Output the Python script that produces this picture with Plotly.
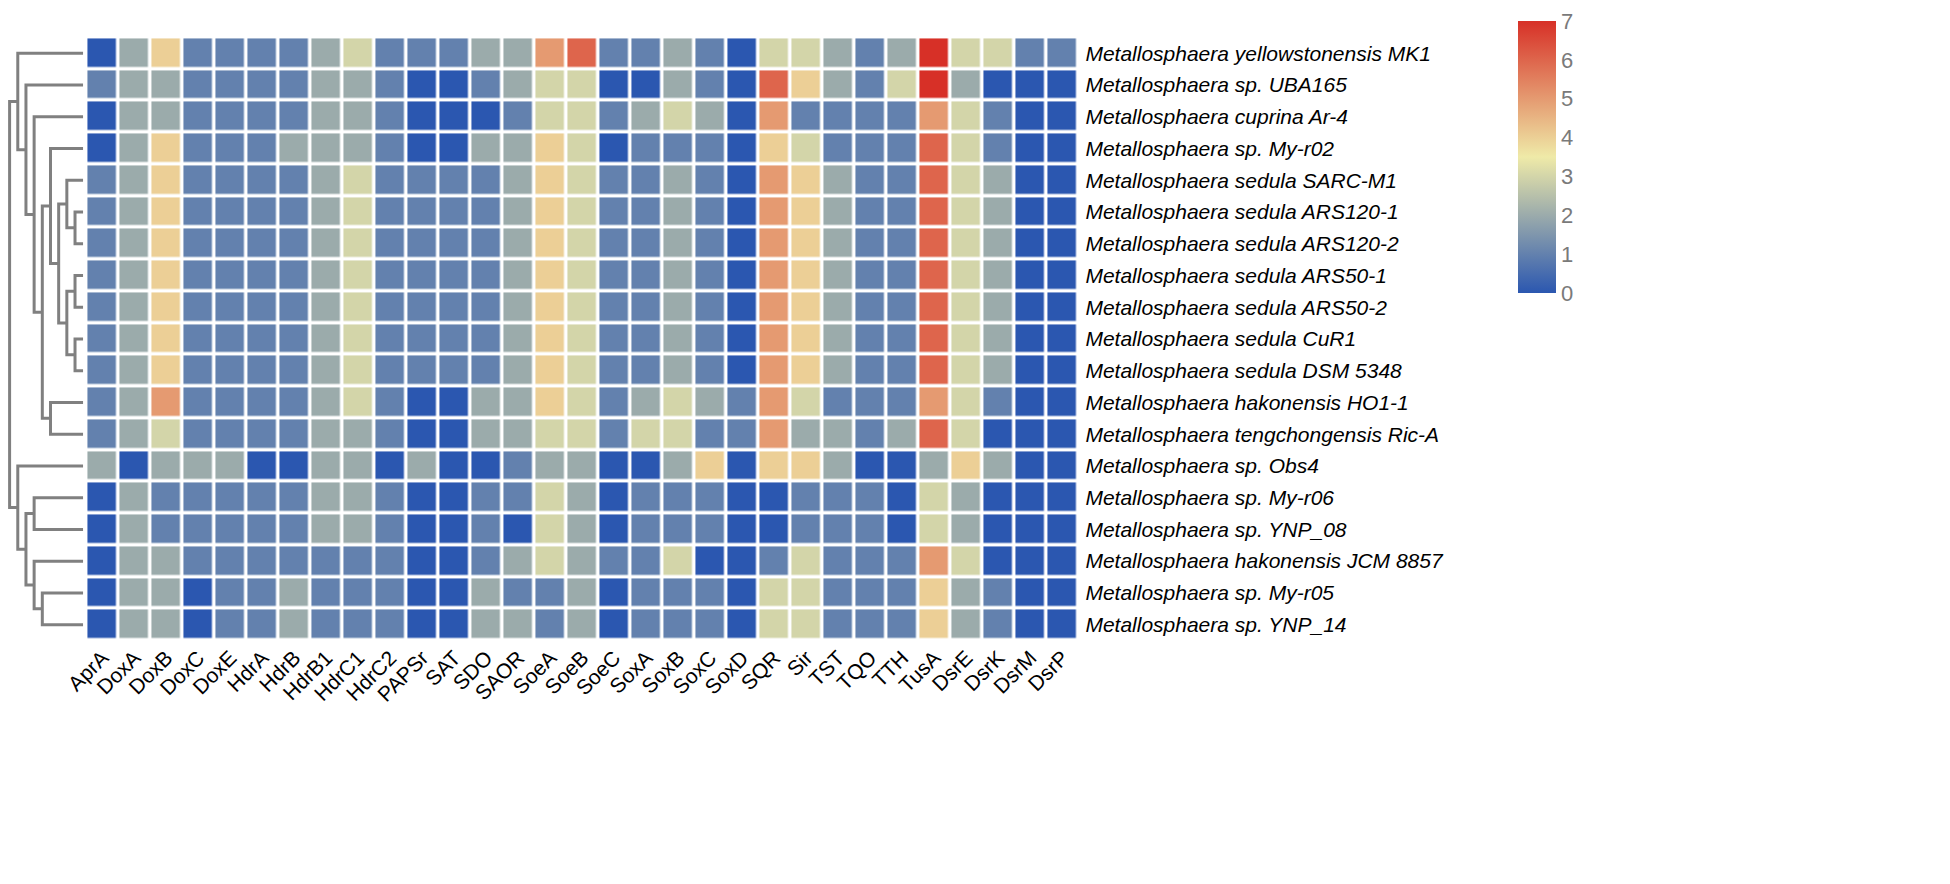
import plotly.graph_objects as go

genomes = [
    "Metallosphaera yellowstonensis MK1",
    "Metallosphaera sp. UBA165",
    "Metallosphaera cuprina Ar-4",
    "Metallosphaera sp. My-r02",
    "Metallosphaera sedula SARC-M1",
    "Metallosphaera sedula ARS120-1",
    "Metallosphaera sedula ARS120-2",
    "Metallosphaera sedula ARS50-1",
    "Metallosphaera sedula ARS50-2",
    "Metallosphaera sedula CuR1",
    "Metallosphaera sedula DSM 5348",
    "Metallosphaera hakonensis HO1-1",
    "Metallosphaera tengchongensis Ric-A",
    "Metallosphaera sp. Obs4",
    "Metallosphaera sp. My-r06",
    "Metallosphaera sp. YNP_08",
    "Metallosphaera hakonensis JCM 8857",
    "Metallosphaera sp. My-r05",
    "Metallosphaera sp. YNP_14",
]

genes = ["AprA", "DoxA", "DoxB", "DoxC", "DoxE", "HdrA", "HdrB", "HdrB1", "HdrC1",
         "HdrC2", "PAPSr", "SAT", "SDO", "SAOR", "SoeA", "SoeB", "SoeC", "SoxA",
         "SoxB", "SoxC", "SoxD", "SQR", "Sir", "TST", "TQO", "TTH", "TusA", "DsrE",
         "DsrK", "DsrM", "DsrP"]

# gene copy numbers, one row per genome (same order as genomes)
counts = [
    [0, 2, 4, 1, 1, 1, 1, 2, 3, 1, 1, 1, 2, 2, 5, 6, 1, 1, 2, 1, 0, 3, 3, 2, 1, 2, 7, 3, 3, 1, 1],
    [1, 2, 2, 1, 1, 1, 1, 2, 2, 1, 0, 0, 1, 2, 3, 3, 0, 0, 2, 1, 0, 6, 4, 2, 1, 3, 7, 2, 0, 0, 0],
    [0, 2, 2, 1, 1, 1, 1, 2, 2, 1, 0, 0, 0, 1, 3, 3, 1, 2, 3, 2, 0, 5, 1, 1, 1, 1, 5, 3, 1, 0, 0],
    [0, 2, 4, 1, 1, 1, 2, 2, 2, 1, 0, 0, 2, 2, 4, 3, 0, 1, 1, 1, 0, 4, 3, 1, 1, 1, 6, 3, 1, 0, 0],
    [1, 2, 4, 1, 1, 1, 1, 2, 3, 1, 1, 1, 1, 2, 4, 3, 1, 1, 2, 1, 0, 5, 4, 2, 1, 1, 6, 3, 2, 0, 0],
    [1, 2, 4, 1, 1, 1, 1, 2, 3, 1, 1, 1, 1, 2, 4, 3, 1, 1, 2, 1, 0, 5, 4, 2, 1, 1, 6, 3, 2, 0, 0],
    [1, 2, 4, 1, 1, 1, 1, 2, 3, 1, 1, 1, 1, 2, 4, 3, 1, 1, 2, 1, 0, 5, 4, 2, 1, 1, 6, 3, 2, 0, 0],
    [1, 2, 4, 1, 1, 1, 1, 2, 3, 1, 1, 1, 1, 2, 4, 3, 1, 1, 2, 1, 0, 5, 4, 2, 1, 1, 6, 3, 2, 0, 0],
    [1, 2, 4, 1, 1, 1, 1, 2, 3, 1, 1, 1, 1, 2, 4, 3, 1, 1, 2, 1, 0, 5, 4, 2, 1, 1, 6, 3, 2, 0, 0],
    [1, 2, 4, 1, 1, 1, 1, 2, 3, 1, 1, 1, 1, 2, 4, 3, 1, 1, 2, 1, 0, 5, 4, 2, 1, 1, 6, 3, 2, 0, 0],
    [1, 2, 4, 1, 1, 1, 1, 2, 3, 1, 1, 1, 1, 2, 4, 3, 1, 1, 2, 1, 0, 5, 4, 2, 1, 1, 6, 3, 2, 0, 0],
    [1, 2, 5, 1, 1, 1, 1, 2, 3, 1, 0, 0, 2, 2, 4, 3, 1, 2, 3, 2, 1, 5, 3, 1, 1, 1, 5, 3, 1, 0, 0],
    [1, 2, 3, 1, 1, 1, 1, 2, 2, 1, 0, 0, 2, 2, 3, 3, 1, 3, 3, 1, 1, 5, 2, 2, 1, 2, 6, 3, 0, 0, 0],
    [2, 0, 2, 2, 2, 0, 0, 2, 2, 0, 2, 0, 0, 1, 2, 2, 0, 0, 2, 4, 0, 4, 4, 2, 0, 0, 2, 4, 2, 0, 0],
    [0, 2, 1, 1, 1, 1, 1, 2, 2, 1, 0, 0, 1, 1, 3, 2, 0, 1, 1, 1, 0, 0, 1, 1, 1, 0, 3, 2, 0, 0, 0],
    [0, 2, 1, 1, 1, 1, 1, 2, 2, 1, 0, 0, 1, 0, 3, 2, 0, 1, 1, 1, 0, 0, 1, 1, 1, 0, 3, 2, 0, 0, 0],
    [0, 2, 2, 1, 1, 1, 1, 1, 1, 1, 0, 0, 1, 2, 3, 2, 1, 1, 3, 0, 0, 1, 3, 1, 1, 1, 5, 3, 0, 0, 0],
    [0, 2, 2, 0, 1, 1, 2, 1, 1, 1, 0, 0, 2, 1, 1, 2, 0, 1, 1, 1, 0, 3, 3, 1, 1, 1, 4, 2, 1, 0, 0],
    [0, 2, 2, 0, 1, 1, 2, 1, 1, 1, 0, 0, 2, 2, 1, 2, 0, 1, 1, 1, 0, 3, 3, 1, 1, 1, 4, 2, 1, 0, 0],
]

colorbar_ticks = [0, 1, 2, 3, 4, 5, 6, 7]

# row dendrogram: merges in order; leaves are 0..18, new nodes get 19, 20, ...
merge_left = [5, 7, 9, 4, 20, 22, 3, 11, 25, 2, 1, 0, 17, 16, 14, 33, 13, 30]
merge_right = [6, 8, 10, 19, 21, 23, 24, 12, 26, 27, 28, 29, 18, 31, 15, 32, 34, 35]
merge_height = [1, 1, 1, 2, 2, 3, 4, 4, 5, 6, 7, 8, 5, 6, 6, 7, 8, 9]

# the page body has an 8 px margin: the figure is shrunk and shifted to compensate
OFF = 8
W, H = 1950 - 2 * OFF, 884 - 2 * OFF
hm_x0, hm_x1 = 86.4 - OFF, 1078.4 - OFF
hm_y0, hm_y1 = 37.4 - OFF, 640.5 - OFF
dd_x0, dd_x1 = 0.0, 83.2 - OFF
cb_x, cb_top, cb_bottom = 1518 - OFF, 21 - OFF, 293 - OFF
FONT = "Liberation Sans, Arial, sans-serif"

# dendrogram segments
n_leaves = len(genomes)
pos = {i: (0.0, float(i)) for i in range(n_leaves)}
dx, dy = [], []
for k, (a, b, h) in enumerate(zip(merge_left, merge_right, merge_height)):
    ha, ya = pos[a]
    hb, yb = pos[b]
    dx += [ha, h, h, hb, None]
    dy += [ya, ya, yb, yb, None]
    pos[n_leaves + k] = (h, (ya + yb) / 2)

dd_w = dd_x1 - dd_x0
dd_range_max = max(merge_height) * dd_w / (dd_w - 1.6)

colorscale = [[0.0, "#2B57B0"], [0.5, "#EFEAA8"], [1.0, "#D73027"]]

fig = go.Figure()
fig.add_trace(go.Heatmap(
    z=counts,
    x=list(range(len(genes))),
    y=list(range(len(genomes))),
    zmin=0, zmax=7,
    colorscale=colorscale,
    xgap=3.5, ygap=3.5,
    colorbar=dict(
        x=cb_x / W, xanchor="left", xpad=0,
        y=1 - cb_top / H, yanchor="top", ypad=0,
        len=cb_bottom - cb_top, lenmode="pixels",
        thickness=38, thicknessmode="pixels",
        outlinewidth=0,
        tickmode="array",
        tickvals=colorbar_ticks,
        ticktext=[str(t) for t in colorbar_ticks],
        ticks="",
        ticklabeloverflow="allow",
        tickfont=dict(family=FONT, size=22, color="#7a7a7a"),
    ),
    hovertemplate="%{y}<br>%{x}: %{z}<extra></extra>",
))
fig.add_trace(go.Scatter(
    x=dx, y=dy, mode="lines", xaxis="x2", yaxis="y",
    line=dict(color="#808080", width=3),
    hoverinfo="skip", showlegend=False,
))

fig.update_layout(
    width=W, height=H, autosize=False,
    margin=dict(l=0, r=0, t=0, b=0, autoexpand=False),
    paper_bgcolor="white", plot_bgcolor="white",
    showlegend=False,
    xaxis=dict(
        domain=[hm_x0 / W, hm_x1 / W],
        range=[-0.5, len(genes) - 0.5],
        tickvals=list(range(len(genes))), ticktext=genes,
        tickangle=-45, ticks="", showgrid=False, zeroline=False, showline=False,
        automargin=False,
        tickfont=dict(family=FONT, size=21, color="black"),
    ),
    yaxis=dict(
        domain=[1 - hm_y1 / H, 1 - hm_y0 / H],
        range=[len(genomes) - 0.5, -0.5],
        side="right",
        tickvals=list(range(len(genomes))), ticktext=genomes,
        ticks="", showgrid=False, zeroline=False, showline=False,
        automargin=False,
        ticklabelstandoff=6,
        tickfont=dict(family=FONT, size=21, color="black", style="italic"),
    ),
    xaxis2=dict(
        domain=[dd_x0 / W, dd_x1 / W],
        range=[dd_range_max, 0],
        anchor="y", visible=False, showgrid=False, zeroline=False,
        automargin=False,
    ),
)

fig.write_html("out.html")
